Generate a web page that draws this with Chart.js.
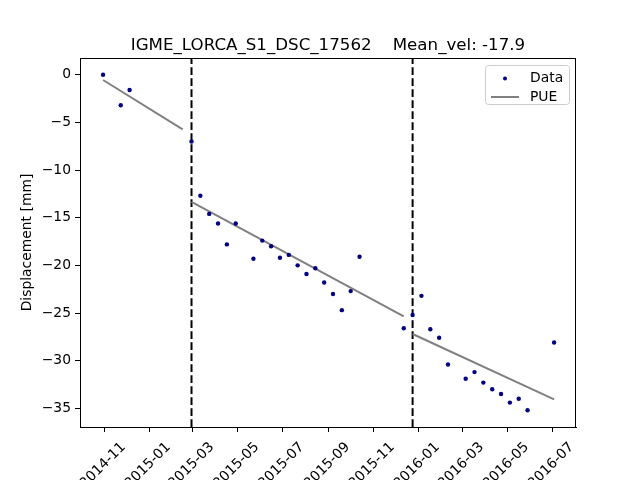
<!DOCTYPE html>
<html>
<head>
<meta charset="utf-8">
<script src="https://cdn.jsdelivr.net/npm/chart.js@4"></script>
<style>
  html, body { margin: 0; padding: 0; background: #fff; }
  #wrap { width: 640px; height: 480px; }
</style>
</head>
<body>
<div id="wrap"><canvas id="dispChart" width="640" height="480"></canvas></div>
<script>
// Data
const obsDates = [
    '2014-10-30', '2014-11-23', '2014-12-05',
    '2015-02-27', '2015-03-11', '2015-03-23', '2015-04-04', '2015-04-16', '2015-04-28',
    '2015-05-22', '2015-06-03', '2015-06-15', '2015-06-27', '2015-07-09', '2015-07-21',
    '2015-08-02', '2015-08-14', '2015-08-26', '2015-09-07', '2015-09-19', '2015-10-01', '2015-10-13',
    '2015-12-12', '2015-12-24', '2016-01-05', '2016-01-17', '2016-01-29', '2016-02-10',
    '2016-03-05', '2016-03-17', '2016-03-29', '2016-04-10', '2016-04-22', '2016-05-04',
    '2016-05-16', '2016-05-28', '2016-07-03'
];
const obsValues = [
    0.0, -3.2, -1.6,
    -7.0, -12.7, -14.6, -15.6, -17.8, -15.6,
    -19.3, -17.4, -18.0, -19.2, -18.9, -20.0,
    -20.9, -20.3, -21.8, -23.0, -24.7, -22.7, -19.1,
    -26.6, -25.2, -23.2, -26.7, -27.6, -30.4,
    -31.9, -31.2, -32.3, -33.0, -33.5, -34.4,
    -34.0, -35.2, -28.1
];

// PUE fit segments
const segStartDates = ['2014-10-30', '2015-02-27', '2015-12-24'];
const segEndDates = ['2015-02-15', '2015-12-12', '2016-07-03'];
const segStartValues = [-0.55, -13.34, -27.2];
const segEndValues = [-5.72, -25.36, -34.06];

// breaks (dashed vertical lines)
const breakDates = ['2015-02-27', '2015-12-24'];

// axes
const xTickLabels = ['2014-11', '2015-01', '2015-03', '2015-05', '2015-07', '2015-09',
    '2015-11', '2016-01', '2016-03', '2016-05', '2016-07'];
const yTickValues = [0, -5, -10, -15, -20, -25, -30, -35];
const xLimits = [-33.3, 639.7];   // days from 2014-11-01
const yLimits = [-36.96, 1.76];

const titleText = 'IGME_LORCA_S1_DSC_17562    Mean_vel: -17.9';

// helpers
const DAY = 86400000;
const origin = Date.parse('2014-11-01');
function toDay(s) { return (Date.parse(s) - origin) / DAY; }
const xTickValues = xTickLabels.map(l => toDay(l + '-01'));

Chart.defaults.font.family = 'DejaVu Sans';
Chart.defaults.font.size = 13.89;
Chart.defaults.color = '#000';

const datasets = [];
datasets.push({
    label: 'Data',
    data: obsDates.map((d, i) => ({ x: toDay(d), y: obsValues[i] })),
    showLine: false,
    pointRadius: 2.2,
    pointBackgroundColor: '#000080',
    pointBorderWidth: 0,
    borderColor: '#000080'
});
segStartDates.forEach((d, i) => {
    datasets.push({
        label: 'PUE',
        data: [{ x: toDay(d), y: segStartValues[i] }, { x: toDay(segEndDates[i]), y: segEndValues[i] }],
        showLine: true,
        borderColor: '#808080',
        borderWidth: 2,
        pointRadius: 0
    });
});
breakDates.forEach(d => {
    datasets.push({
        label: 'break',
        data: [{ x: toDay(d), y: yLimits[0] }, { x: toDay(d), y: yLimits[1] }],
        showLine: true,
        borderColor: '#000',
        borderWidth: 2,
        borderDash: [7.7, 3.3],
        pointRadius: 0
    });
});

// frame round the plot area + matplotlib-like legend box
const framePlugin = {
    id: 'frame',
    afterDraw(chart) {
        const { ctx, chartArea: a } = chart;
        ctx.save();
        ctx.strokeStyle = '#000';
        ctx.lineWidth = 1;
        ctx.strokeRect(a.left + 0.5, a.top + 0.5, a.right - a.left - 1, a.bottom - a.top);

        // legend
        const w = 84, h = 39;
        const lx = a.right - 7 - w, ly = a.top + 7;
        ctx.fillStyle = 'rgba(255,255,255,0.8)';
        ctx.strokeStyle = '#cccccc';
        ctx.beginPath();
        ctx.roundRect(lx + 0.5, ly + 0.5, w, h, 3);
        ctx.fill();
        ctx.stroke();

        ctx.fillStyle = '#000080';
        ctx.beginPath();
        ctx.arc(lx + 20, ly + 13.5, 2, 0, Math.PI * 2);
        ctx.fill();

        ctx.strokeStyle = '#808080';
        ctx.lineWidth = 2;
        ctx.beginPath();
        ctx.moveTo(lx + 6, ly + 32);
        ctx.lineTo(lx + 34, ly + 32);
        ctx.stroke();

        ctx.fillStyle = '#000';
        ctx.font = '13.89px "DejaVu Sans"';
        ctx.textBaseline = 'middle';
        ctx.textAlign = 'left';
        ctx.fillText('Data', lx + 45, ly + 13);
        ctx.fillText('PUE', lx + 45, ly + 32);
        ctx.restore();
    }
};

const chart = new Chart(document.getElementById('dispChart'), {
    type: 'scatter',
    data: { datasets },
    plugins: [framePlugin],
    options: {
        responsive: false,
        animation: false,
        layout: { padding: { left: 0, right: 64, top: 0, bottom: 0 } },
        plugins: {
            legend: { display: false },
            tooltip: { enabled: false },
            title: {
                display: true,
                text: titleText,
                fullSize: false,
                font: { size: 16.67, weight: 'normal' },
                color: '#000',
                padding: { top: 36, bottom: 2 }
            }
        },
        scales: {
            x: {
                type: 'linear',
                min: xLimits[0],
                max: xLimits[1],
                afterBuildTicks: s => { s.ticks = xTickValues.map(v => ({ value: v })); },
                afterFit: s => { s.height = 53; },
                ticks: {
                    autoSkip: false,
                    minRotation: 45,
                    maxRotation: 45,
                    padding: 7,
                    labelOffset: 19,
                    callback: (v) => {
                        const i = xTickValues.indexOf(v);
                        return i >= 0 ? xTickLabels[i] : '';
                    }
                },
                grid: { drawOnChartArea: false, color: '#000', tickLength: 5 },
                border: { color: '#000', width: 1 }
            },
            y: {
                type: 'linear',
                min: yLimits[0],
                max: yLimits[1],
                afterBuildTicks: s => { s.ticks = yTickValues.map(v => ({ value: v })); },
                afterFit: s => { s.width = 80; },
                ticks: {
                    padding: 4,
                    callback: v => String(v).replace('-', '\u2212')
                },
                grid: { drawOnChartArea: false, color: '#000', tickLength: 5 },
                border: { color: '#000', width: 1 },
                title: {
                    display: true,
                    text: 'Displacement [mm]',
                    padding: { top: 19, bottom: 0 }
                }
            }
        }
    }
});
</script>
</body>
</html>
